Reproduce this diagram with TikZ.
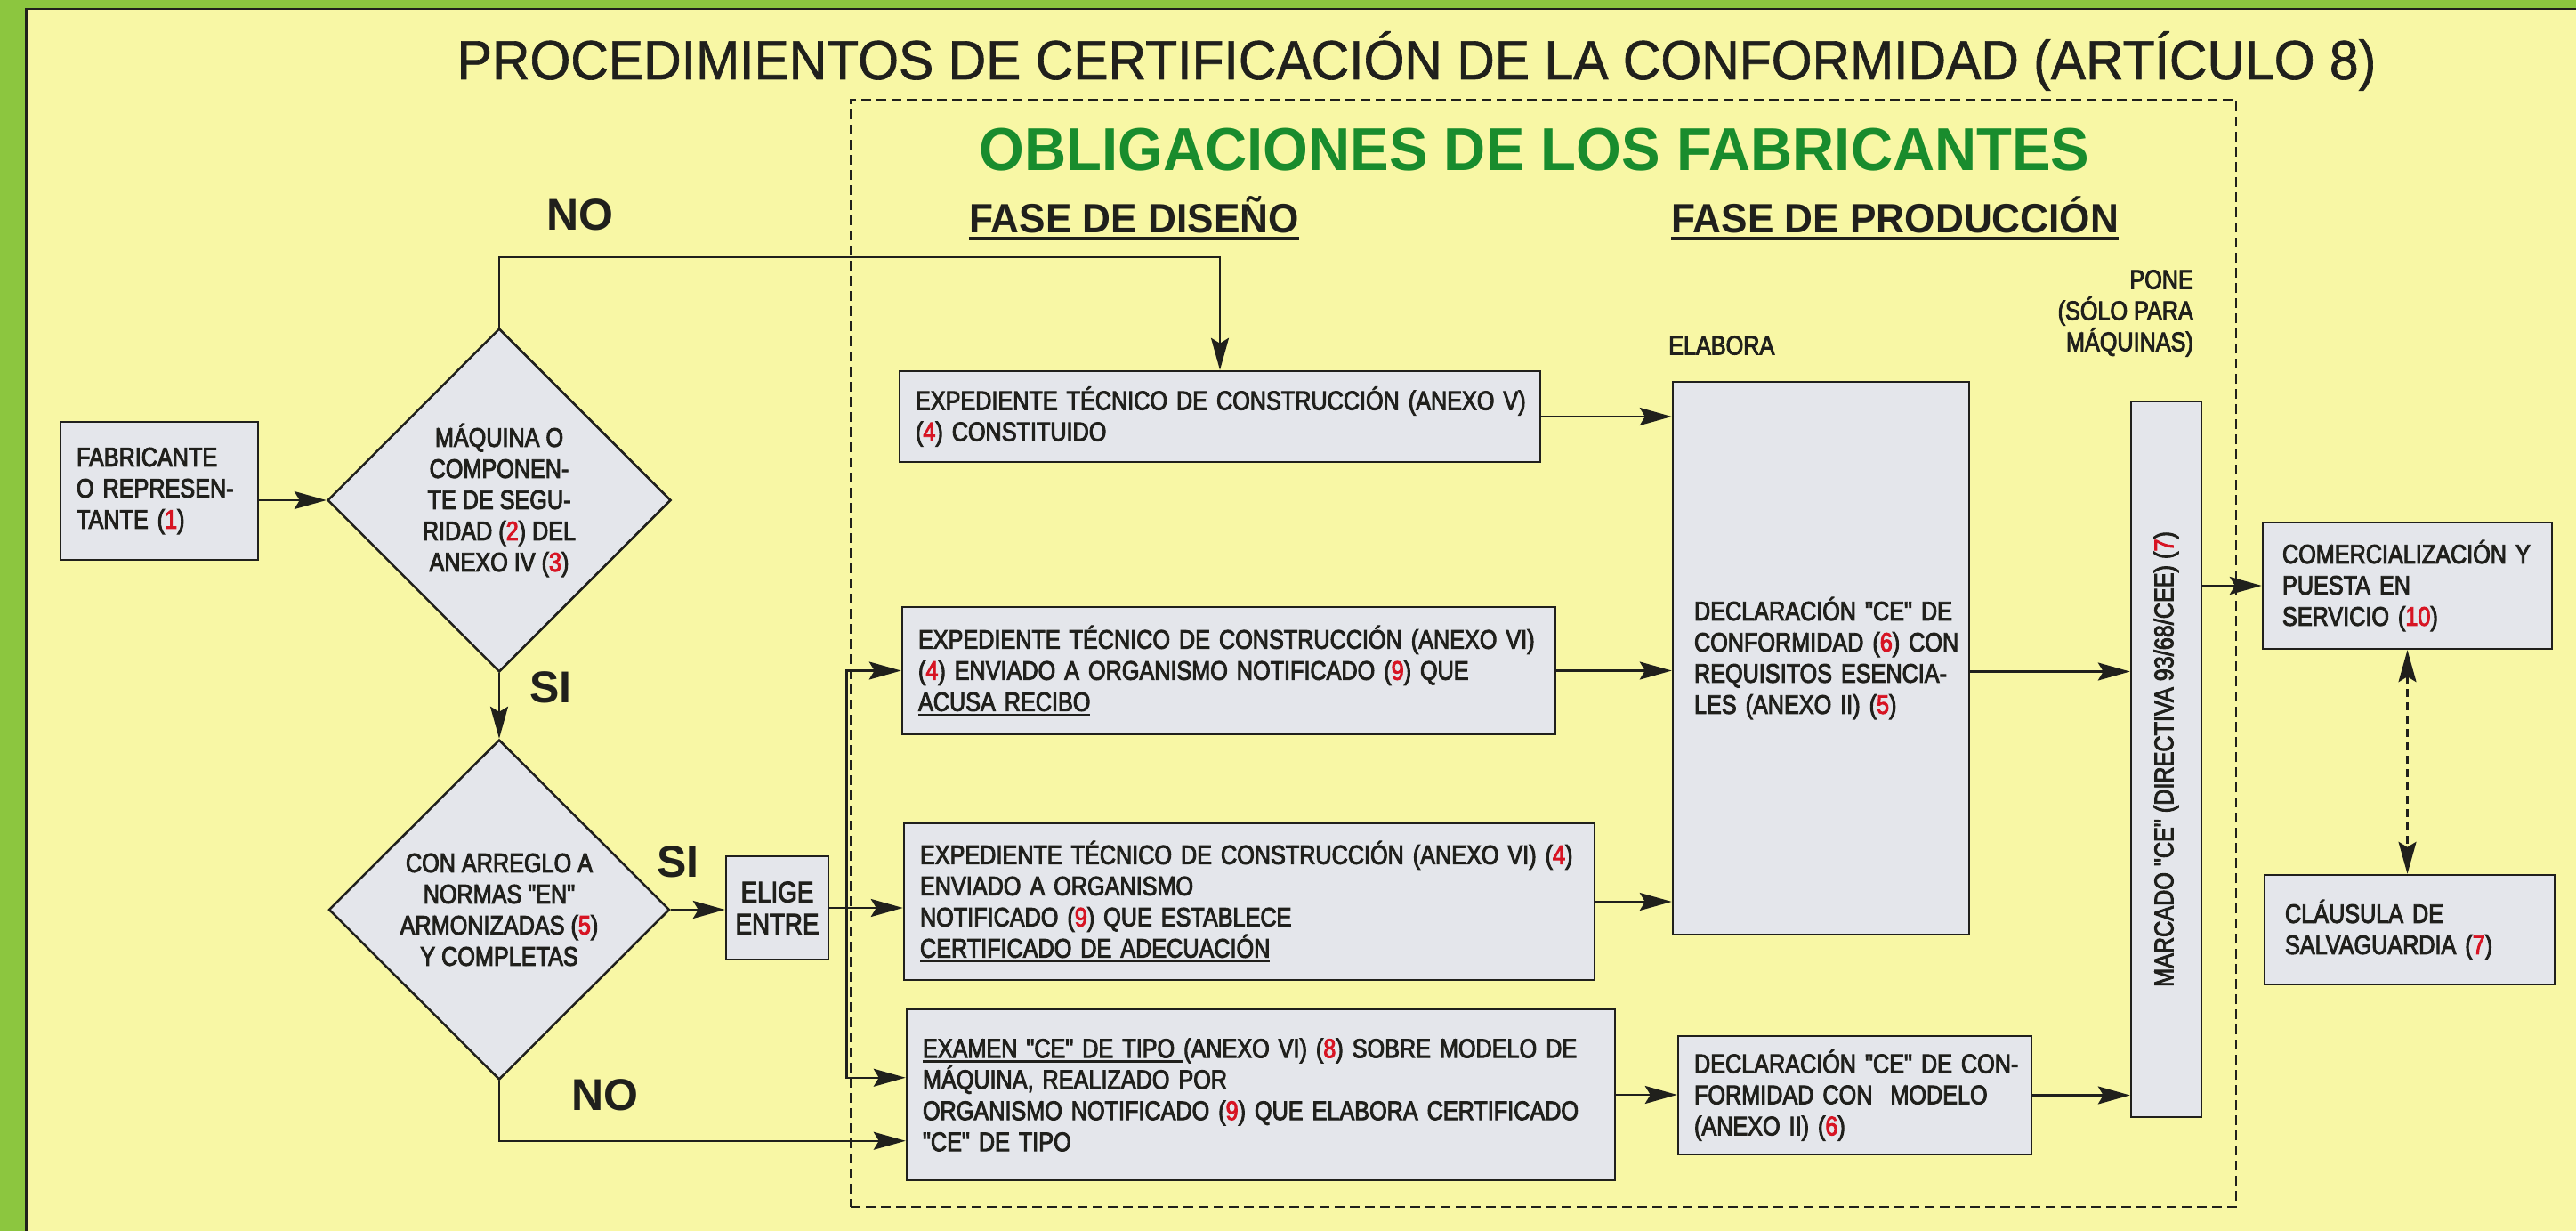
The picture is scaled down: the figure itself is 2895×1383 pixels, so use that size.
\documentclass[tikz,border=0pt]{standalone}
\usepackage{fontspec}
\setmainfont{Liberation Sans}
\newfontfamily\bodyf[FakeStretch=0.84,FakeBold=3]{Liberation Sans}
\newfontfamily\titlef[FakeStretch=0.95,FakeBold=1]{Liberation Sans}
\newfontfamily\headf[FakeStretch=0.96]{Liberation Sans}
\usetikzlibrary{arrows.meta,shapes.geometric,calc}
\definecolor{bggreen}{RGB}{140,198,63}
\definecolor{bgyellow}{RGB}{248,247,165}
\definecolor{boxgray}{RGB}{228,230,235}
\definecolor{numred}{RGB}{215,20,35}
\definecolor{headgreen}{RGB}{25,140,45}
\definecolor{ink}{RGB}{32,32,28}
\newcommand\rn[1]{\textcolor{numred}{#1}}
\newcommand\ml[1]{\mbox{#1}}
\newsavebox\ulsave
\newcommand\ulbox[1]{\sbox\ulsave{#1}\rlap{\vrule height -3pt depth 5.5pt width \wd\ulsave}\usebox\ulsave}
\newcommand\ulhead[1]{\sbox\ulsave{#1}\rlap{\vrule height -5pt depth 9pt width \wd\ulsave}\usebox\ulsave}
\tikzset{
  bodyfont/.style={font=\bodyf\fontsize{30pt}{35pt}\selectfont},
  box/.style={draw=ink, line width=2.5pt, fill=boxgray, inner xsep=18pt, inner ysep=4pt,
    align=left, text=ink, bodyfont},
  dia/.style={draw=ink, line width=2.5pt, fill=boxgray, shape=diamond, aspect=1,
    inner sep=0pt, align=center, text=ink, bodyfont},
  arr/.style={draw=ink, line width=2.5pt, -{Stealth[length=36pt,width=20pt,inset=6pt]}},
  dbl/.style={draw=ink, line width=2.5pt, dash pattern=on 9pt off 6pt,
    {Stealth[length=36pt,width=20pt,inset=6pt]}-{Stealth[length=36pt,width=20pt,inset=6pt]}},
  lbl/.style={text=ink, bodyfont, inner sep=0pt},
  yesno/.style={text=ink, font=\fontsize{50pt}{50pt}\selectfont\bfseries, inner sep=0pt},
  frame/.style={draw=ink, line width=2.5pt, dash pattern=on 11pt off 6pt, inner sep=0pt},
}
\begin{document}
\begin{tikzpicture}[x=1pt,y=-1pt]
\useasboundingbox (0,0) rectangle (2895,1383);
% background
\fill[bggreen] (0,0) rectangle (2895,1383);
\fill[bgyellow] (28,9) rectangle (2895,1383);
\draw[ink,line width=2.5pt] (29.25,1383) -- (29.25,10.25) -- (2895,10.25);

% dashed frame
\node[frame, minimum width=1557pt, minimum height=1244pt] (oblframe) at (1734.5,734) {};

% titles
\node[anchor=base, inner sep=0pt, text=ink, font=\titlef\fontsize{62pt}{62pt}\selectfont] (title) at (1592,89)
  {PROCEDIMIENTOS DE CERTIFICACIÓN DE LA CONFORMIDAD (ARTÍCULO 8)};
\node[anchor=base, inner sep=0pt, text=headgreen, font=\headf\fontsize{68pt}{68pt}\selectfont\bfseries] (oblig) at (1724.5,192)
  {OBLIGACIONES DE LOS FABRICANTES};
\node[anchor=base west, inner sep=0pt, text=ink, font=\headf\fontsize{46pt}{46pt}\selectfont\bfseries] (fdis) at (1089,261)
  {\ulhead{FASE DE DISEÑO}};
\node[anchor=base west, inner sep=0pt, text=ink, font=\headf\fontsize{46pt}{46pt}\selectfont\bfseries] (fprod) at (1878,261)
  {\ulhead{FASE DE PRODUCCIÓN}};

% labels
\node[yesno] (no1) at (652,241) {NO};
\node[yesno] (si1) at (619,772) {SI};
\node[yesno] (si2) at (762,968) {SI};
\node[yesno] (no2) at (680,1230) {NO};
\node[lbl, anchor=west] (elabora) at (1875,388) {ELABORA};
\node[lbl, anchor=east, align=right] (pone) at (2465,352) {PONE\\(SÓLO PARA\\MÁQUINAS)};

% boxes
\node[box, minimum width=222pt, minimum height=155pt, text width=186pt] (fab) at (179,551.5)
  {\ml{FABRICANTE}\\\ml{O REPRESEN-}\\\ml{TANTE (\rn{1})}};
\node[dia, minimum width=386pt, minimum height=386pt] (d1) at (561,562)
  {MÁQUINA O\\COMPONEN-\\TE DE SEGU-\\RIDAD (\rn{2}) DEL\\ANEXO IV (\rn{3})};
\node[dia, minimum width=383pt, minimum height=382pt] (d2) at (561,1022)
  {CON ARREGLO A\\NORMAS "EN"\\ARMONIZADAS (\rn{5})\\Y COMPLETAS};
\node[box, align=center, inner xsep=4pt, minimum width=115pt, minimum height=116pt,
  font=\bodyf\fontsize{33pt}{36pt}\selectfont] (elige) at (873.5,1020) {ELIGE\\ENTRE};

\node[box, minimum width=720pt, minimum height=102pt, text width=684pt] (expv) at (1371,468)
  {\ml{EXPEDIENTE TÉCNICO DE CONSTRUCCIÓN (ANEXO V)}\\\ml{(\rn{4}) CONSTITUIDO}};
\node[box, minimum width=734pt, minimum height=143pt, text width=698pt] (expvia) at (1381,753.5)
  {\ml{EXPEDIENTE TÉCNICO DE CONSTRUCCIÓN (ANEXO VI)}\\\ml{(\rn{4}) ENVIADO A ORGANISMO NOTIFICADO (\rn{9}) QUE}\\\ml{\ulbox{ACUSA RECIBO}}};
\node[box, minimum width=776pt, minimum height=176pt, text width=740pt] (expvib) at (1404,1013)
  {\ml{EXPEDIENTE TÉCNICO DE CONSTRUCCIÓN (ANEXO VI) (\rn{4})}\\\ml{ENVIADO A ORGANISMO}\\\ml{NOTIFICADO (\rn{9}) QUE ESTABLECE}\\\ml{\ulbox{CERTIFICADO DE ADECUACIÓN}}};
\node[box, minimum width=796pt, minimum height=192pt, text width=760pt] (examen) at (1417,1230)
  {\ml{\ulbox{EXAMEN "CE" DE TIPO }(ANEXO VI) (\rn{8}) SOBRE MODELO DE}\\\ml{MÁQUINA, REALIZADO POR}\\\ml{ORGANISMO NOTIFICADO (\rn{9}) QUE ELABORA CERTIFICADO}\\\ml{"CE" DE TIPO}};

\node[box, inner xsep=24pt, minimum width=333pt, minimum height=621pt, text width=285pt] (decl) at (2046.5,739.5)
  {\ml{DECLARACIÓN "CE" DE}\\\ml{CONFORMIDAD (\rn{6}) CON}\\\ml{REQUISITOS ESENCIA-}\\\ml{LES (ANEXO II) (\rn{5})}};
\node[box, minimum width=397pt, minimum height=133pt, text width=361pt] (declm) at (2084.5,1230.5)
  {\ml{DECLARACIÓN "CE" DE CON-}\\\ml{FORMIDAD CON\ \ MODELO}\\\ml{(ANEXO II) (\rn{6})}};
\node[box, inner sep=0pt, minimum width=79pt, minimum height=804pt] (marc) at (2434.5,853) {};
\node[lbl, rotate=90] (marctxt) at (marc.center) {MARCADO "CE" (DIRECTIVA 93/68/CEE) (\rn{7})};

\node[box, inner xsep=22pt, minimum width=325pt, minimum height=142pt, text width=281pt] (com) at (2705.5,658)
  {\ml{COMERCIALIZACIÓN Y}\\\ml{PUESTA EN}\\\ml{SERVICIO (\rn{10})}};
\node[box, inner xsep=23pt, minimum width=326pt, minimum height=123pt, text width=280pt] (claus) at (2708,1044.5)
  {\ml{CLÁUSULA DE}\\\ml{SALVAGUARDIA (\rn{7})}};

% connectors
\draw[arr] (fab.east |- d1.west) -- (d1.west);
\path (expv.north) ++(0,-127) coordinate (noturn);
\draw[arr] (d1.north) |- (noturn) -- (expv.north);
\draw[arr] (d1.south) -- (d2.north);
\draw[arr] (d2.east) -- (d2.east -| elige.west);
\coordinate (split) at ($(elige.east)+(19,0)$);
\draw[arr] (elige.east) -- (elige.east -| expvib.west);
\draw[arr] (split) |- (expvia.west);
\coordinate (exin1) at ($(examen.north west)+(0,78)$);
\draw[arr] (split) |- (exin1);
\coordinate (exin2) at ($(examen.north west)+(0,149)$);
\draw[arr] (d2.south) |- (exin2);

\draw[arr] (expv.east) -- (expv.east -| decl.west);
\draw[arr] (expvia.east) -- (expvia.east -| decl.west);
\draw[arr] (expvib.east) -- (expvib.east -| decl.west);
\draw[arr] (examen.east) -- (examen.east -| declm.west);
\coordinate (dout) at ($(decl.east)+(0,15)$);
\draw[arr] (dout) -- (dout -| marc.west);
\draw[arr] (declm.east) -- (declm.east -| marc.west);
\draw[arr] (marc.east |- com.west) -- (com.west);
\draw[dbl] (com.south) -- (com.south |- claus.north);
\end{tikzpicture}
\end{document}
